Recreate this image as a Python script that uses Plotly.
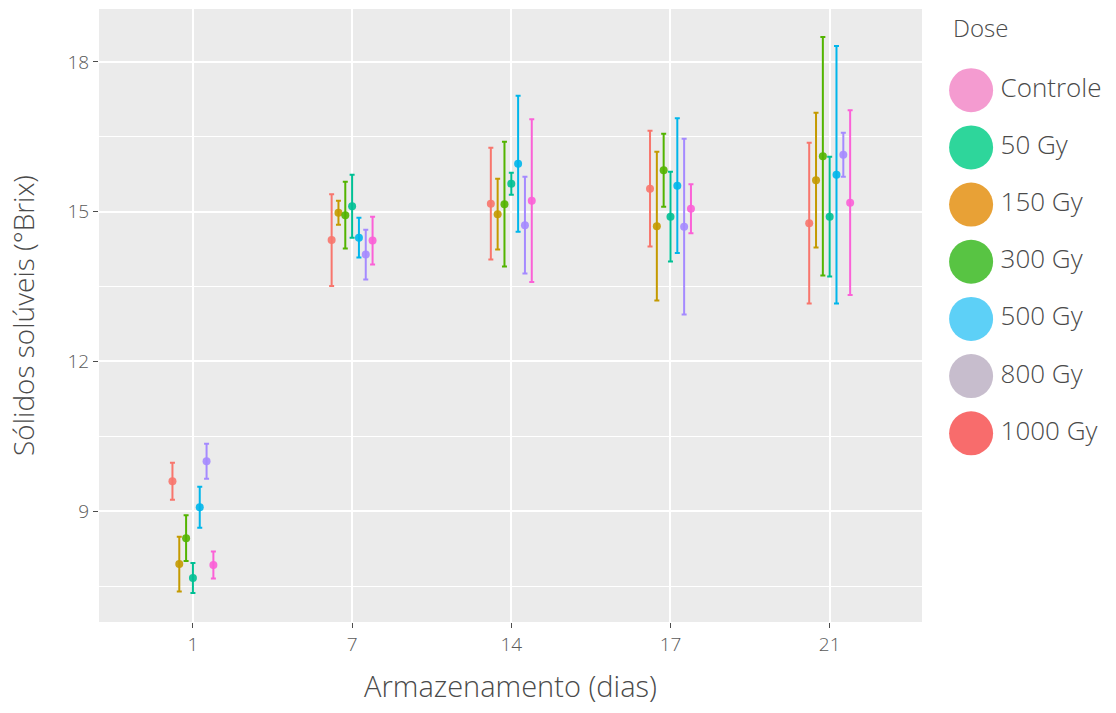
import plotly.graph_objects as go

# Storage days (discrete x categories)
days = ["1", "7", "14", "17", "21"]

# Dose levels in plotting (dodge) order
doses = ["1000 Gy", "150 Gy", "300 Gy", "50 Gy", "500 Gy", "800 Gy", "Controle"]
point_colors = ["#F8766D", "#C49A00", "#53B400", "#00C094", "#00B6EB", "#A58AFF", "#FB61D7"]

# Mean soluble solids (°Brix) per dose, one value per day
mean_1000 = [9.60, 14.43, 15.16, 15.46, 14.77]
mean_150 = [7.94, 14.98, 14.95, 14.71, 15.63]
mean_300 = [8.46, 14.93, 15.15, 15.83, 16.11]
mean_50 = [7.66, 15.11, 15.56, 14.90, 14.90]
mean_500 = [9.08, 14.48, 15.96, 15.52, 15.74]
mean_800 = [10.00, 14.14, 14.73, 14.70, 16.14]
mean_ctrl = [7.92, 14.42, 15.22, 15.06, 15.18]

# Standard deviations (error bar half-lengths)
sd_1000 = [0.37, 0.92, 1.12, 1.16, 1.61]
sd_150 = [0.55, 0.24, 0.71, 1.49, 1.35]
sd_300 = [0.46, 0.67, 1.25, 0.73, 2.39]
sd_50 = [0.30, 0.63, 0.22, 0.90, 1.20]
sd_500 = [0.41, 0.40, 1.36, 1.35, 2.58]
sd_800 = [0.35, 0.50, 0.97, 1.76, 0.44]
sd_ctrl = [0.27, 0.48, 1.63, 0.49, 1.85]

means = [mean_1000, mean_150, mean_300, mean_50, mean_500, mean_800, mean_ctrl]
sds = [sd_1000, sd_150, sd_300, sd_50, sd_500, sd_800, sd_ctrl]

# Legend entries (display order and swatch colours)
legend_labels = ["Controle", "50 Gy", "150 Gy", "300 Gy", "500 Gy", "800 Gy", "1000 Gy"]
legend_colors = ["#F49BD0", "#2ED69B", "#E8A136", "#58C443", "#5DD0F7", "#C7BDCD", "#F86C6C"]

FONT = "Open Sans"
TEXT_COL = "#4A4A4A"
LIGHT = 300
fig = go.Figure()

for name, col, m, s in zip(doses, point_colors, means, sds):
    fig.add_trace(go.Scatter(
        x=days, y=m, name=name, mode="markers",
        marker=dict(color=col, size=8, opacity=0.9),
        error_y=dict(type="data", array=s, visible=True, color=col,
                     thickness=2, width=2.5),
        showlegend=False, xaxis="x", yaxis="y",
    ))

# Legend drawn as its own small panel with large swatches
legend_rows = list(range(len(legend_labels)))
fig.add_trace(go.Scatter(
    x=[0.263] * len(legend_rows), y=legend_rows, mode="markers",
    marker=dict(color=legend_colors, size=44),
    showlegend=False, hoverinfo="skip", xaxis="x2", yaxis="y2",
))
fig.add_trace(go.Scatter(
    x=[0.395] * len(legend_rows), y=legend_rows, mode="text",
    text=legend_labels, textposition="middle right",
    textfont=dict(family=FONT, size=26, color=TEXT_COL, weight=LIGHT),
    showlegend=False, hoverinfo="skip", xaxis="x2", yaxis="y2",
))

fig.add_annotation(
    x=0.148, y=-1.1, xref="x2", yref="y2", text="Dose", showarrow=False,
    xanchor="left", yanchor="middle",
    font=dict(family=FONT, size=24, color=TEXT_COL, weight=LIGHT),
)

# Grey panel behind the main plot only
fig.add_shape(
    type="rect", xref="x domain", yref="y domain", x0=0, x1=1, y0=0, y1=1,
    fillcolor="#EBEBEB", line=dict(width=0), layer="below",
)

main_w = 823 / 1017
fig.update_layout(
    width=1116, height=713,
    margin=dict(l=99, r=0, t=9, b=91),
    paper_bgcolor="white",
    plot_bgcolor="white",
    scattermode="group", scattergap=0.7,
    font=dict(family=FONT, color=TEXT_COL),
    xaxis=dict(
        domain=[0, main_w], type="category", range=[-0.59, 4.58],
        showgrid=True, gridcolor="white", gridwidth=2,
        ticks="outside", ticklen=5, tickwidth=1, tickcolor="#4D4D4D",
        tickfont=dict(size=19, color="#5A5A5A", weight=LIGHT),
        title=dict(text="Armazenamento (dias)",
                   font=dict(size=29, color=TEXT_COL, weight=LIGHT),
                   standoff=20),
        zeroline=False, showline=False,
    ),
    yaxis=dict(
        range=[6.78, 19.06], tickvals=[9, 12, 15, 18],
        showgrid=True, gridcolor="white", gridwidth=2,
        minor=dict(tickvals=[7.5, 10.5, 13.5, 16.5], showgrid=True,
                   gridcolor="white", gridwidth=1, ticks=""),
        ticks="outside", ticklen=5, tickwidth=1, tickcolor="#4D4D4D",
        tickfont=dict(size=19, color="#5A5A5A", weight=LIGHT),
        title=dict(text="Sólidos solúveis (°Brix)",
                   font=dict(size=28, color=TEXT_COL, weight=LIGHT),
                   standoff=24),
        zeroline=False, showline=False,
    ),
    xaxis2=dict(domain=[main_w, 1], range=[0, 1], visible=False, fixedrange=True),
    yaxis2=dict(anchor="x2", range=[9.30, -1.42], visible=False, fixedrange=True),
)

fig.write_html("out.html")
